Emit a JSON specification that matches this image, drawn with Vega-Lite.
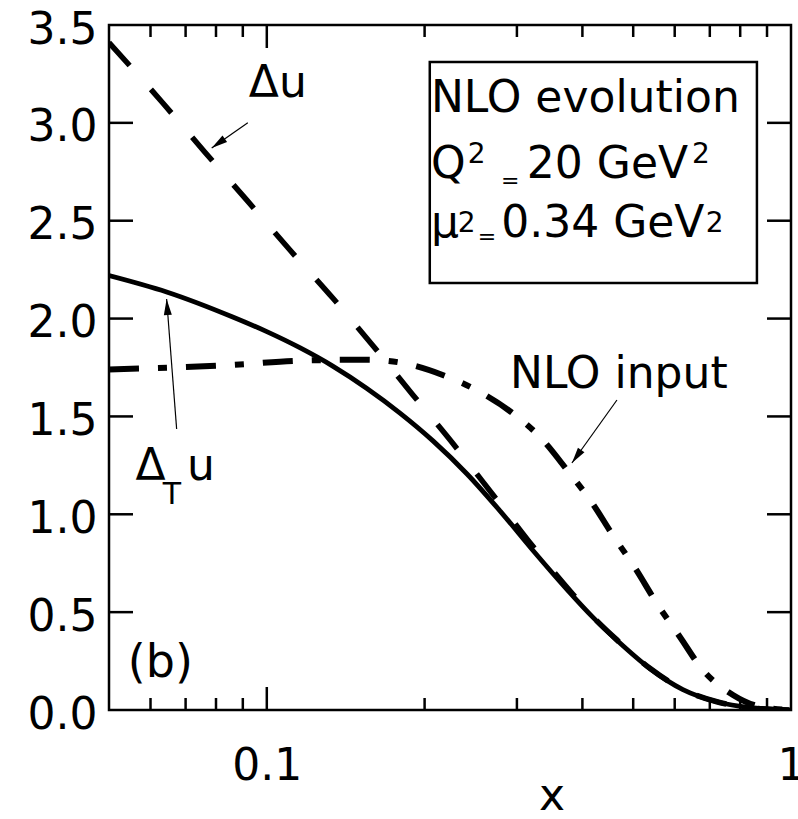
{
  "$schema": "https://vega.github.io/schema/vega-lite/v6.json",
  "width": 682,
  "height": 685,
  "autosize": "none",
  "padding": {"left": 109, "top": 25, "right": 7, "bottom": 109},
  "background": "white",
  "config": {
    "view": {"stroke": "black", "strokeWidth": 2.5},
    "font": "DejaVu Sans",
    "text": {"font": "DejaVu Sans", "color": "black", "align": "left", "baseline": "alphabetic"},
    "axis": {
      "domain": false, "grid": false, "ticks": false,
      "labelColor": "black", "labelFont": "DejaVu Sans", "labelFontSize": 44,
      "labelOverlap": false, "labelBound": false
    }
  },
  "resolve": {"axis": {"x": "independent", "y": "independent"}},
  "layer": [
    {
      "data": {"values": [
        {"x": 0.05, "y": 2.22}, {"x": 0.0644, "y": 2.136}, {"x": 0.0861, "y": 2.008}, {"x": 0.1, "y": 1.933},
        {"x": 0.1156, "y": 1.851}, {"x": 0.1336, "y": 1.757}, {"x": 0.155, "y": 1.644}, {"x": 0.1795, "y": 1.517},
        {"x": 0.2075, "y": 1.375}, {"x": 0.241, "y": 1.206}, {"x": 0.279, "y": 1.015}, {"x": 0.322, "y": 0.815},
        {"x": 0.374, "y": 0.615}, {"x": 0.419, "y": 0.473}, {"x": 0.466, "y": 0.355}, {"x": 0.538, "y": 0.212},
        {"x": 0.622, "y": 0.104}, {"x": 0.722, "y": 0.042}, {"x": 0.836, "y": 0.012}, {"x": 1.0, "y": 0.0}
      ]},
      "mark": {"type": "line", "color": "black", "clip": true, "interpolate": "monotone", "strokeWidth": 4.8},
      "encoding": {
        "x": {"field": "x", "type": "quantitative",
          "scale": {"type": "log", "domain": [0.05, 1], "nice": false},
          "axis": {"orient": "bottom", "values": [0.1, 1],
            "labelExpr": "datum.value == 0.1 ? '0.1' : '1'",
            "labelPadding": 34, "labelAlign": "center", "labelFlush": true, "title": null}},
        "y": {"field": "y", "type": "quantitative",
          "scale": {"domain": [0, 3.5], "nice": false, "zero": false},
          "axis": {"orient": "left", "values": [0, 0.5, 1, 1.5, 2, 2.5, 3, 3.5], "format": ".1f",
            "labelPadding": 12, "labelOffset": 5, "labelFlush": false, "title": null}}
      }
    },
    {
      "data": {"values": [
        {"x": 0.05, "y": 3.41}, {"x": 0.0634, "y": 3.10}, {"x": 0.0762, "y": 2.85}, {"x": 0.0916, "y": 2.605},
        {"x": 0.1107, "y": 2.35}, {"x": 0.1336, "y": 2.105}, {"x": 0.159, "y": 1.865}, {"x": 0.19, "y": 1.61},
        {"x": 0.2275, "y": 1.355}, {"x": 0.27, "y": 1.10}, {"x": 0.322, "y": 0.835}, {"x": 0.384, "y": 0.59},
        {"x": 0.419, "y": 0.476}, {"x": 0.466, "y": 0.357}, {"x": 0.538, "y": 0.213}, {"x": 0.622, "y": 0.105},
        {"x": 0.722, "y": 0.042}, {"x": 0.836, "y": 0.012}, {"x": 1.0, "y": 0.0}
      ]},
      "mark": {"type": "line", "color": "black", "clip": true, "interpolate": "monotone", "strokeWidth": 5.5, "strokeDash": [31, 32]},
      "encoding": {
        "x": {"field": "x", "type": "quantitative", "axis": null},
        "y": {"field": "y", "type": "quantitative", "axis": null}
      }
    },
    {
      "data": {"values": [
        {"x": 0.05, "y": 1.74}, {"x": 0.0861, "y": 1.763}, {"x": 0.1156, "y": 1.785}, {"x": 0.155, "y": 1.79},
        {"x": 0.1815, "y": 1.773}, {"x": 0.2165, "y": 1.712}, {"x": 0.255, "y": 1.625}, {"x": 0.294, "y": 1.518},
        {"x": 0.336, "y": 1.38}, {"x": 0.374, "y": 1.226}, {"x": 0.417, "y": 1.06}, {"x": 0.457, "y": 0.894},
        {"x": 0.504, "y": 0.726}, {"x": 0.554, "y": 0.547}, {"x": 0.614, "y": 0.373}, {"x": 0.679, "y": 0.204},
        {"x": 0.775, "y": 0.077}, {"x": 0.87, "y": 0.018}, {"x": 1.0, "y": 0.0}
      ]},
      "mark": {"type": "line", "color": "black", "clip": true, "interpolate": "monotone", "strokeWidth": 6, "strokeDash": [30, 19, 9, 19]},
      "encoding": {
        "x": {"field": "x", "type": "quantitative", "axis": null},
        "y": {"field": "y", "type": "quantitative", "axis": null}
      }
    },
    {
      "data": {"values": [{"tick": 0.1}]},
      "mark": {"type": "rule", "color": "black", "strokeWidth": 2.5},
      "encoding": {"x": {"field": "tick", "type": "quantitative", "axis": null},
        "y": {"datum": 0, "type": "quantitative", "axis": null}, "y2": {"datum": 0.1175}}
    },
    {
      "data": {"values": [{"tick": 0.06}, {"tick": 0.07}, {"tick": 0.08}, {"tick": 0.09}, {"tick": 0.2}, {"tick": 0.3}, {"tick": 0.4}, {"tick": 0.5}, {"tick": 0.6}, {"tick": 0.7}, {"tick": 0.8}, {"tick": 0.9}]},
      "mark": {"type": "rule", "color": "black", "strokeWidth": 2.5},
      "encoding": {"x": {"field": "tick", "type": "quantitative", "axis": null},
        "y": {"datum": 0, "type": "quantitative", "axis": null}, "y2": {"datum": 0.0613}}
    },
    {
      "data": {"values": [{"tick": 0.1}]},
      "mark": {"type": "rule", "color": "black", "strokeWidth": 2.5},
      "encoding": {"x": {"field": "tick", "type": "quantitative", "axis": null},
        "y": {"datum": 3.3825, "type": "quantitative", "axis": null}, "y2": {"datum": 3.5}}
    },
    {
      "data": {"values": [{"tick": 0.06}, {"tick": 0.07}, {"tick": 0.08}, {"tick": 0.09}, {"tick": 0.2}, {"tick": 0.3}, {"tick": 0.4}, {"tick": 0.5}, {"tick": 0.6}, {"tick": 0.7}, {"tick": 0.8}, {"tick": 0.9}]},
      "mark": {"type": "rule", "color": "black", "strokeWidth": 2.5},
      "encoding": {"x": {"field": "tick", "type": "quantitative", "axis": null},
        "y": {"datum": 3.4387, "type": "quantitative", "axis": null}, "y2": {"datum": 3.5}}
    },
    {
      "data": {"values": [{"tick": 0.5}, {"tick": 1.0}, {"tick": 1.5}, {"tick": 2.0}, {"tick": 2.5}, {"tick": 3.0}]},
      "mark": {"type": "rule", "color": "black", "strokeWidth": 2.5},
      "encoding": {"y": {"field": "tick", "type": "quantitative", "axis": null},
        "x": {"datum": 0.05, "type": "quantitative", "axis": null}, "x2": {"datum": 0.05556}}
    },
    {
      "data": {"values": [{"tick": 0.5}, {"tick": 1.0}, {"tick": 1.5}, {"tick": 2.0}, {"tick": 2.5}, {"tick": 3.0}]},
      "mark": {"type": "rule", "color": "black", "strokeWidth": 2.5},
      "encoding": {"y": {"field": "tick", "type": "quantitative", "axis": null},
        "x": {"datum": 0.9, "type": "quantitative", "axis": null}, "x2": {"datum": 1}}
    },
    {
      "data": {"values": [{}]},
      "mark": {"type": "rect", "fillOpacity": 0, "stroke": "black", "strokeWidth": 2.5},
      "encoding": {
        "x": {"datum": 0.2046, "type": "quantitative", "axis": null},
        "x2": {"datum": 0.861},
        "y": {"datum": 3.311, "type": "quantitative", "axis": null},
        "y2": {"datum": 2.182}
      }
    },
    {
      "data": {"values": [{}]},
      "mark": {"type": "rule", "color": "black", "strokeWidth": 1.2},
      "encoding": {"x": {"datum": 0.092, "type": "quantitative", "axis": null}, "y": {"datum": 3.0, "type": "quantitative", "axis": null},
        "x2": {"datum": 0.0785}, "y2": {"datum": 2.872}}
    },
    {
      "data": {"values": [{}]},
      "mark": {"type": "rule", "color": "black", "strokeWidth": 1.2},
      "encoding": {"x": {"datum": 0.4656, "type": "quantitative", "axis": null}, "y": {"datum": 1.584, "type": "quantitative", "axis": null},
        "x2": {"datum": 0.382}, "y2": {"datum": 1.262}}
    },
    {
      "data": {"values": [{}]},
      "mark": {"type": "rule", "color": "black", "strokeWidth": 1.2},
      "encoding": {"x": {"datum": 0.0673, "type": "quantitative", "axis": null}, "y": {"datum": 1.436, "type": "quantitative", "axis": null},
        "x2": {"datum": 0.0644}, "y2": {"datum": 2.1}}
    },
    {
      "data": {"values": [{}]},
      "mark": {"type": "point", "shape": "M0,0L-0.4,1.6L0.4,1.6Z", "filled": true, "color": "black", "opacity": 1, "size": 400, "angle": 235},
      "encoding": {"x": {"datum": 0.0785, "type": "quantitative", "axis": null}, "y": {"datum": 2.872, "type": "quantitative", "axis": null}}
    },
    {
      "data": {"values": [{}]},
      "mark": {"type": "point", "shape": "M0,0L-0.4,1.6L0.4,1.6Z", "filled": true, "color": "black", "opacity": 1, "size": 400, "angle": 215.5},
      "encoding": {"x": {"datum": 0.382, "type": "quantitative", "axis": null}, "y": {"datum": 1.262, "type": "quantitative", "axis": null}}
    },
    {
      "data": {"values": [{}]},
      "mark": {"type": "point", "shape": "M0,0L-0.4,1.6L0.4,1.6Z", "filled": true, "color": "black", "opacity": 1, "size": 400, "angle": 355.6},
      "encoding": {"x": {"datum": 0.0644, "type": "quantitative", "axis": null}, "y": {"datum": 2.1, "type": "quantitative", "axis": null}}
    },
    {"data": {"values": [{}]}, "mark": {"type": "text", "text": "x", "fontSize": 44, "align": "center"},
      "encoding": {"x": {"datum": 0.35, "type": "quantitative", "axis": null}, "y": {"datum": -0.51, "type": "quantitative", "axis": null}}},
    {"data": {"values": [{}]}, "mark": {"type": "text", "text": "Δu", "fontSize": 44},
      "encoding": {"x": {"datum": 0.0924, "type": "quantitative", "axis": null}, "y": {"datum": 3.132, "type": "quantitative", "axis": null}}},
    {"data": {"values": [{}]}, "mark": {"type": "text", "text": "NLO input", "fontSize": 44},
      "encoding": {"x": {"datum": 0.291, "type": "quantitative", "axis": null}, "y": {"datum": 1.645, "type": "quantitative", "axis": null}}},
    {"data": {"values": [{}]}, "mark": {"type": "text", "text": "(b)", "fontSize": 46},
      "encoding": {"x": {"datum": 0.0543, "type": "quantitative", "axis": null}, "y": {"datum": 0.169, "type": "quantitative", "axis": null}}},
    {"data": {"values": [{}]}, "mark": {"type": "text", "text": "Δ", "fontSize": 44},
      "encoding": {"x": {"datum": 0.0562, "type": "quantitative", "axis": null}, "y": {"datum": 1.175, "type": "quantitative", "axis": null}}},
    {"data": {"values": [{}]}, "mark": {"type": "text", "text": "T", "fontSize": 30},
      "encoding": {"x": {"datum": 0.0633, "type": "quantitative", "axis": null}, "y": {"datum": 1.053, "type": "quantitative", "axis": null}}},
    {"data": {"values": [{}]}, "mark": {"type": "text", "text": "u", "fontSize": 44},
      "encoding": {"x": {"datum": 0.0704, "type": "quantitative", "axis": null}, "y": {"datum": 1.175, "type": "quantitative", "axis": null}}},
    {"data": {"values": [{}]}, "mark": {"type": "text", "text": "NLO evolution", "fontSize": 44},
      "encoding": {"x": {"datum": 0.2056, "type": "quantitative", "axis": null}, "y": {"datum": 3.056, "type": "quantitative", "axis": null}}},
    {"data": {"values": [{}]}, "mark": {"type": "text", "text": "Q", "fontSize": 44},
      "encoding": {"x": {"datum": 0.2056, "type": "quantitative", "axis": null}, "y": {"datum": 2.718, "type": "quantitative", "axis": null}}},
    {"data": {"values": [{}]}, "mark": {"type": "text", "text": "2", "fontSize": 28},
      "encoding": {"x": {"datum": 0.2418, "type": "quantitative", "axis": null}, "y": {"datum": 2.795, "type": "quantitative", "axis": null}}},
    {"data": {"values": [{}]}, "mark": {"type": "text", "text": "=", "fontSize": 22},
      "encoding": {"x": {"datum": 0.2797, "type": "quantitative", "axis": null}, "y": {"datum": 2.667, "type": "quantitative", "axis": null}}},
    {"data": {"values": [{}]}, "mark": {"type": "text", "text": "20 GeV", "fontSize": 44},
      "encoding": {"x": {"datum": 0.3134, "type": "quantitative", "axis": null}, "y": {"datum": 2.718, "type": "quantitative", "axis": null}}},
    {"data": {"values": [{}]}, "mark": {"type": "text", "text": "2", "fontSize": 28},
      "encoding": {"x": {"datum": 0.647, "type": "quantitative", "axis": null}, "y": {"datum": 2.795, "type": "quantitative", "axis": null}}},
    {"data": {"values": [{}]}, "mark": {"type": "text", "text": "μ", "fontSize": 44},
      "encoding": {"x": {"datum": 0.2056, "type": "quantitative", "axis": null}, "y": {"datum": 2.417, "type": "quantitative", "axis": null}}},
    {"data": {"values": [{}]}, "mark": {"type": "text", "text": "2", "fontSize": 28},
      "encoding": {"x": {"datum": 0.2314, "type": "quantitative", "axis": null}, "y": {"datum": 2.443, "type": "quantitative", "axis": null}}},
    {"data": {"values": [{}]}, "mark": {"type": "text", "text": "=", "fontSize": 22},
      "encoding": {"x": {"datum": 0.2527, "type": "quantitative", "axis": null}, "y": {"datum": 2.381, "type": "quantitative", "axis": null}}},
    {"data": {"values": [{}]}, "mark": {"type": "text", "text": "0.34 GeV", "fontSize": 44},
      "encoding": {"x": {"datum": 0.28, "type": "quantitative", "axis": null}, "y": {"datum": 2.417, "type": "quantitative", "axis": null}}},
    {"data": {"values": [{}]}, "mark": {"type": "text", "text": "2", "fontSize": 28},
      "encoding": {"x": {"datum": 0.688, "type": "quantitative", "axis": null}, "y": {"datum": 2.443, "type": "quantitative", "axis": null}}}
  ]
}
